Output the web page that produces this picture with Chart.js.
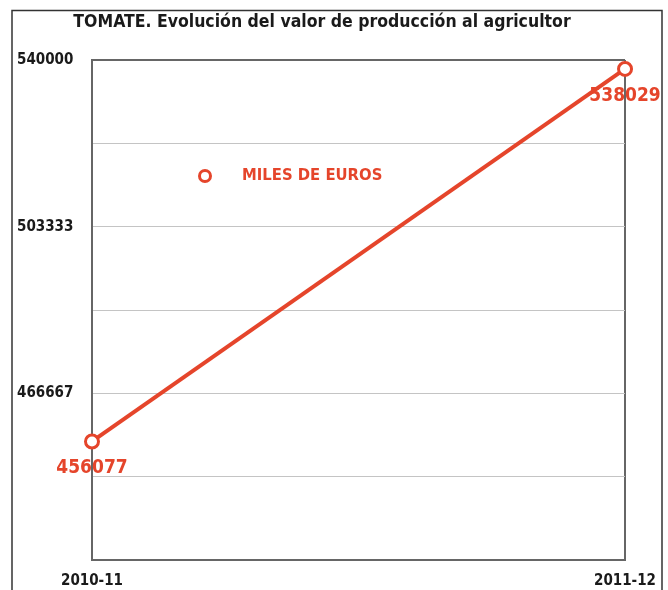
<!DOCTYPE html>
<html>
<head>
<meta charset="utf-8">
<script src="https://cdn.jsdelivr.net/npm/chart.js@4/dist/chart.umd.min.js"></script>
<style>
html,body{margin:0;padding:0;background:#fff;}
#wrap{width:668px;height:590px;position:relative;}
</style>
</head>
<body>
<div id="wrap"><canvas id="c" width="668" height="590"></canvas></div>
<script>
const categories = ['2010-11', '2011-12'];
const seriesName = 'MILES DE EUROS';
const values = [456077, 538029];
const yTickValues = [430000, 448333, 466667, 485000, 503333, 521667, 540000];
const yTickLabels = ['540000', '503333', '466667'];
const titleText = 'TOMATE. Evolución del valor de producción al agricultor';

const RED = '#e5452b';
const FONT = "'DejaVu Sans Condensed', 'Liberation Sans', sans-serif";

const framePlugin = {
  id: 'frame',
  beforeDraw(chart) {
    const ctx = chart.ctx;
    ctx.save();
    ctx.strokeStyle = '#333';
    ctx.lineWidth = 1.5;
    ctx.beginPath();
    ctx.moveTo(12, 600); ctx.lineTo(12, 10.5); ctx.lineTo(662, 10.5); ctx.lineTo(662, 600);
    ctx.stroke();
    ctx.restore();
  }
};

const labelPlugin = {
  id: 'valueLabels',
  afterDatasetsDraw(chart) {
    const ctx = chart.ctx;
    const meta = chart.getDatasetMeta(0);
    ctx.save();
    ctx.font = "bold 19px " + FONT;
    ctx.fillStyle = RED;
    ctx.textAlign = 'center';
    ctx.textBaseline = 'middle';
    meta.data.forEach((pt, i) => {
      ctx.fillText(String(chart.data.datasets[0].data[i]), pt.x, pt.y + 27);
    });
    // legend inside chart area
    const a = chart.chartArea;
    const lx = a.left + 113, ly = a.top + 116;
    ctx.beginPath();
    ctx.arc(lx, ly, 5.5, 0, Math.PI * 2);
    ctx.fillStyle = '#fff';
    ctx.fill();
    ctx.lineWidth = 3;
    ctx.strokeStyle = RED;
    ctx.stroke();
    ctx.font = "bold 16.5px " + FONT;
    ctx.fillStyle = RED;
    ctx.textAlign = 'left';
    ctx.fillText(chart.data.datasets[0].label, lx + 37, ly);
    ctx.restore();
  }
};

new Chart(document.getElementById('c'), {
  type: 'line',
  data: {
    labels: categories,
    datasets: [{
      label: seriesName,
      data: values,
      borderColor: RED,
      borderWidth: 4,
      pointRadius: 6.5,
      pointBorderWidth: 3,
      pointBackgroundColor: '#fff',
      pointBorderColor: RED,
      tension: 0
    }]
  },
  options: {
    responsive: false,
    animation: false,
    layout: { padding: { left: 17, right: 41, top: 0, bottom: 0 } },
    plugins: {
      legend: { display: false },
      tooltip: { enabled: false },
      title: {
        display: true,
        text: titleText,
        color: '#1a1a1a',
        font: { family: FONT, size: 17.5, weight: 'bold', lineHeight: 1.2 },
        padding: { top: 12, bottom: 27 }
      }
    },
    scales: {
      x: {
        offset: false,
        grid: {
          drawTicks: false,
          color: '#666',
          lineWidth: 2
        },
        border: { display: true, color: '#666', width: 2 },
        ticks: {
          color: '#1a1a1a',
          padding: 12,
          maxRotation: 0,
          font: { family: FONT, size: 15, weight: 'bold' }
        },
        afterFit(scale) { scale.height = 30; }
      },
      y: {
        min: 430000,
        max: 540000,
        afterBuildTicks(scale) {
          scale.ticks = yTickValues.map(v => ({ value: v }));
        },
        grid: {
          drawTicks: false,
          color: (c) => (c.tick && c.tick.value === 540000) ? '#666' : '#c4c4c4',
          lineWidth: (c) => (c.tick && c.tick.value === 540000) ? 2 : 1
        },
        border: { display: true, color: '#666', width: 2 },
        ticks: {
          color: '#1a1a1a',
          crossAlign: 'far',
          padding: 8,
          font: { family: FONT, size: 15, weight: 'bold' },
          callback(value) {
            const s = String(Math.round(value));
            return yTickLabels.includes(s) ? s : '';
          }
        },
        afterFit(scale) { scale.width = 75; }
      }
    }
  },
  plugins: [framePlugin, labelPlugin]
});
</script>
</body>
</html>
